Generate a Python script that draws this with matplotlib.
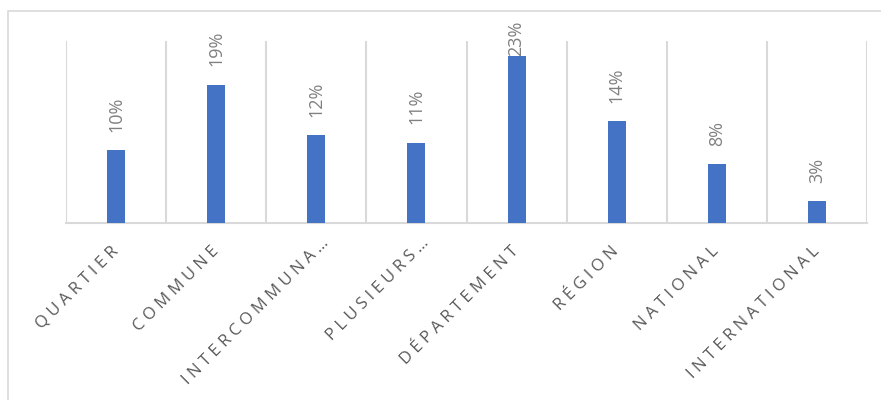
import matplotlib
matplotlib.use("Agg")
import matplotlib.pyplot as plt
from matplotlib.patches import Rectangle
from matplotlib.transforms import ScaledTranslation
import numpy as np

categories = ["QUARTIER", "COMMUNE", "INTERCOMMUNA…", "PLUSIEURS…",
              "DÉPARTEMENT", "RÉGION", "NATIONAL", "INTERNATIONAL"]
values = [10, 19, 12, 11, 23, 14, 8, 3]
value_labels = ["10%", "19%", "12%", "11%", "23%", "14%", "8%", "3%"]

BAR_COLOR = "#4472C4"
GRID_COLOR = "#D9D9D9"
TICK_COLOR = "#595959"
LABEL_COLOR = "#808080"


def spaced(s):
    return " ".join(list(s))


fig = plt.figure(figsize=(8.81, 4.0), dpi=100)
ax = fig.add_axes([66 / 881, 1 - 222.5 / 400, (867 - 66) / 881, (222.5 - 41) / 400])

x = np.arange(len(categories))
ax.bar(x, values, width=0.18, color=BAR_COLOR, zorder=3)

ax.set_xlim(-0.5, len(categories) - 0.5)
ax.set_ylim(0, 25)

# vertical category gridlines
ax.set_xticks(np.arange(-0.5, len(categories), 1), minor=True)
ax.grid(which="minor", axis="x", color=GRID_COLOR, linewidth=1.5, zorder=0)
ax.tick_params(axis="x", which="minor", length=0)
ax.set_yticks([])

for s in ["top", "left", "right"]:
    ax.spines[s].set_visible(False)
ax.spines["bottom"].set_color(GRID_COLOR)
ax.spines["bottom"].set_linewidth(1.5)

ax.set_xticks(x)
ax.set_xticklabels([spaced(c) for c in categories], rotation=45, ha="right",
                   va="center", rotation_mode="anchor", fontsize=12,
                   family=["Open Sans", "DejaVu Sans"], color=TICK_COLOR)
ax.tick_params(axis="x", which="major", length=0, pad=19)

# truncated labels sit a little further along their diagonal
for lbl, c in zip(ax.get_xticklabels(), categories):
    if c.endswith("…"):
        lbl.set_transform(lbl.get_transform() +
                          ScaledTranslation(10 / 100, 8 / 100, fig.dpi_scale_trans))

# data labels, rotated, clamped near the top of the plot area
for xi, v, lab in zip(x, values, value_labels):
    y = v + 2.5
    if y + 4.8 > 28:
        y = v
    ax.text(xi, y, lab, rotation=90, ha="center", va="bottom",
            fontsize=13, family="Open Sans", color=LABEL_COLOR,
            clip_on=False, zorder=4)

# outer chart border
fig.patches.append(Rectangle((8 / 881, -0.1), 1.2, 1 - 11 / 400 + 0.1,
                             transform=fig.transFigure, fill=False,
                             edgecolor=GRID_COLOR, linewidth=1.2))

fig.savefig("out.png", dpi=100)
